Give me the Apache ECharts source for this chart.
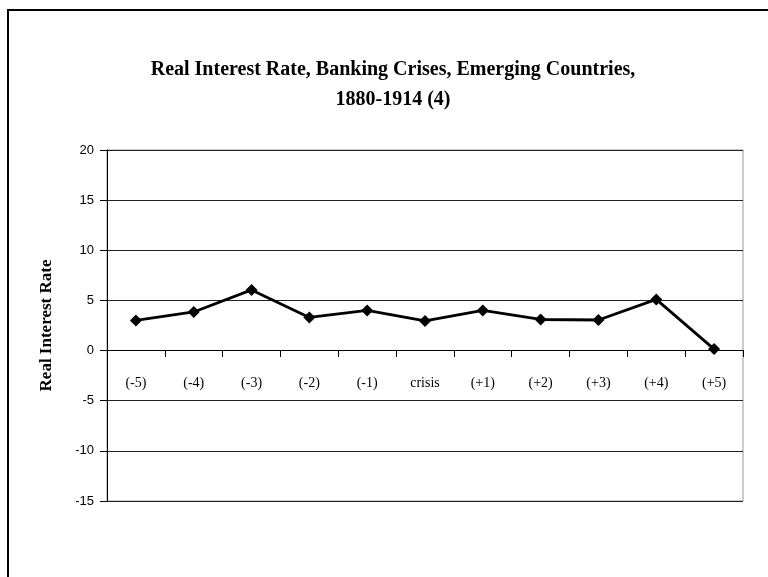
<!DOCTYPE html>
<html>
<head>
<meta charset="utf-8">
<script src="https://cdn.jsdelivr.net/npm/echarts@6/dist/echarts.min.js"></script>
<style>
  html, body { margin: 0; padding: 0; background: #fff; }
  #ChartLine { width: 768px; height: 577px; }
</style>
</head>
<body>
<div id="ChartLine"></div>
<script>
var categories = ['(-5)', '(-4)', '(-3)', '(-2)', '(-1)', 'crisis', '(+1)', '(+2)', '(+3)', '(+4)', '(+5)'];
var rateValues = [3.0, 3.85, 6.05, 3.3, 4.0, 2.95, 4.0, 3.1, 3.05, 5.1, 0.15];
var yTicks = [-15, -10, -5, 0, 5, 10, 15, 20];

var serif = '"Liberation Serif", "DejaVu Serif", serif';

var lineChart = echarts.init(document.getElementById("ChartLine"));

var lineoption = {
  backgroundColor: '#fff',
  animation: false,
  title: {
    text: 'Real Interest Rate, Banking Crises, Emerging Countries,\n1880-1914 (4)',
    left: 388,
    top: 50,
    textAlign: 'center',
    textStyle: {
      fontFamily: serif,
      fontWeight: 'bold',
      fontSize: 20,
      lineHeight: 30,
      color: '#000'
    }
  },
  grid: {
    left: 107,
    right: 25,
    top: 150,
    bottom: 76,
    show: true,
    borderColor: '#999',
    borderWidth: 1
  },
  xAxis: [
    {
      type: 'category',
      boundaryGap: true,
      data: categories,
      // axis sits on the zero line (20..-15 range, 10px per unit)
      offset: -151,
      axisLine: { onZero: false, lineStyle: { color: '#000', width: 1 } },
      axisTick: { show: true, inside: false, length: 7, lineStyle: { color: '#000' } },
      axisLabel: {
        margin: 26,
        fontFamily: serif,
        fontSize: 14,
        color: '#000'
      }
    }
  ],
  yAxis: [
    {
      type: 'value',
      min: yTicks[0],
      max: yTicks[yTicks.length - 1],
      interval: 5,
      name: 'Real Interest Rate',
      nameLocation: 'middle',
      nameGap: 52,
      nameTextStyle: {
        fontFamily: serif,
        fontWeight: 'bold',
        fontSize: 17,
        color: '#000'
      },
      axisLine: { show: true, lineStyle: { color: '#000', width: 1 } },
      axisTick: { show: true, length: 7, lineStyle: { color: '#000' } },
      axisLabel: {
        margin: 13,
        fontFamily: '"Liberation Sans", Arial, sans-serif',
        fontSize: 13,
        color: '#000'
      },
      splitLine: { show: true, lineStyle: { color: '#222', width: 1 } }
    }
  ],
  series: [
    {
      name: 'Real Interest Rate',
      type: 'line',
      data: rateValues,
      symbol: 'diamond',
      symbolSize: 12,
      lineStyle: { color: '#000', width: 2.8 },
      itemStyle: { color: '#000' }
    }
  ],
  graphic: [
    {
      type: 'polyline',
      shape: { points: [[8, 577], [8, 10], [768, 10]] },
      style: { stroke: '#000', lineWidth: 2, fill: null }
    }
  ]
};

//加载数据图表
lineChart.setOption(lineoption);
</script>
</body>
</html>
